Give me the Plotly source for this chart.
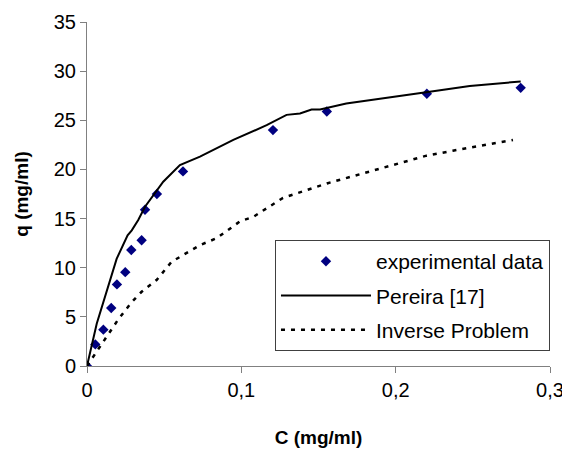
import plotly.graph_objects as go

# Experimental data
exp_c = [0, 0.0054, 0.0106, 0.0157, 0.0194, 0.0248, 0.0287, 0.0354, 0.0376, 0.0453, 0.0622, 0.1205, 0.1554, 0.2202, 0.281]
exp_q = [0, 2.2, 3.7, 5.9, 8.3, 9.55, 11.8, 12.8, 15.9, 17.5, 19.8, 24.0, 25.9, 27.7, 28.3]

# Pereira [17]
per_c = [0, 0.0063, 0.0192, 0.0263, 0.029, 0.0332, 0.0376, 0.0494, 0.0602, 0.0678, 0.0732, 0.0948,
         0.1164, 0.1293, 0.138, 0.1455, 0.151, 0.168, 0.2006, 0.222, 0.248, 0.281]
per_q = [0, 4.3, 10.9, 13.3, 13.8, 14.85, 16.2, 18.75, 20.45, 20.97, 21.3, 23.0,
         24.5, 25.55, 25.7, 26.1, 26.1, 26.7, 27.4, 27.9, 28.5, 28.95]

# Inverse Problem
inv_c = [0, 0.0054, 0.0106, 0.0164, 0.0203, 0.029, 0.0354, 0.0451, 0.0548, 0.0624, 0.0732, 0.084,
         0.099, 0.108, 0.127, 0.156, 0.1876, 0.22, 0.237, 0.261, 0.276]
inv_q = [0, 1.26, 2.45, 3.8, 4.75, 6.5, 7.55, 8.75, 10.6, 11.3, 12.3, 13.0,
         14.7, 15.2, 17.1, 18.6, 19.95, 21.4, 21.9, 22.6, 23.0]

x_ticks = [0, 0.1, 0.2, 0.3]
y_ticks = [0, 5, 10, 15, 20, 25, 30, 35]

FONT = "Liberation Sans, Arial, sans-serif"

fig = go.Figure()
fig.add_trace(go.Scatter(
    x=exp_c, y=exp_q, mode="markers", name="experimental data",
    marker=dict(symbol="diamond", size=8, color="#000080"),
    legendgroup="a"))
fig.add_trace(go.Scatter(
    x=per_c, y=per_q, mode="lines", name="Pereira [17]",
    line=dict(color="black", width=2), legendgroup="b"))
fig.add_trace(go.Scatter(
    x=inv_c, y=inv_q, mode="lines", name="Inverse Problem",
    line=dict(color="black", width=2.5, dash="4px,6px"), legendgroup="c"))

axis_common = dict(
    showline=True, linecolor="#808080", linewidth=1,
    ticks="outside", ticklen=6, tickcolor="#808080", tickwidth=1,
    showgrid=False, zeroline=False, automargin=False,
    tickfont=dict(family=FONT, size=20, color="black"),
)

fig.update_layout(
    width=562, height=444,
    margin=dict(l=79, r=20, t=14, b=86),
    paper_bgcolor="white", plot_bgcolor="white",
    separators=", ",
    font=dict(family=FONT, color="black"),
    xaxis=dict(range=[0, 0.3], tickvals=x_ticks,
               title=dict(text="<b>C (mg/ml)</b>", font=dict(family=FONT, size=19, color="black"), standoff=30),
               **axis_common),
    yaxis=dict(range=[0, 35], tickvals=y_ticks,
               title=dict(text="<b>q (mg/ml)</b>", font=dict(family=FONT, size=19, color="black"), standoff=20),
               **axis_common),
    legend=dict(
        x=0.406, y=0.366, xanchor="left", yanchor="top",
        bgcolor="white", bordercolor="#404040", borderwidth=1,
        font=dict(family=FONT, size=21, color="black"),
        itemwidth=90, traceorder="grouped", tracegroupgap=4,
    ),
)

fig.write_html("out.html")
